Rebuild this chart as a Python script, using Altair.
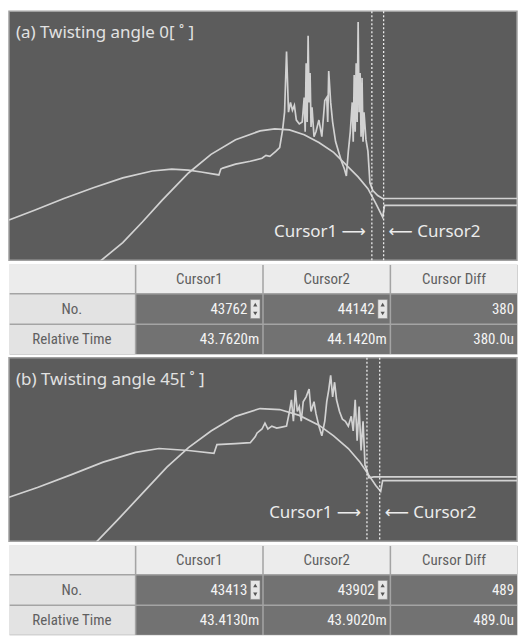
import altair as alt
import pandas as pd

# ---------------- data ----------------
A_TITLE = "(a) Twisting angle 0[ ˚ ]"
B_TITLE = "(b) Twisting angle 45[ ˚ ]"

# panel (a): smooth (bell) trace and noisy trace, sample index vs amplitude
a_bell_x = [93, 116, 136, 156, 183, 206, 231, 256, 271, 286, 301, 316, 331, 343, 356, 366, 374, 381, 383, 518]
a_bell_y = [-1, 18, 39, 61, 89, 108, 123, 132, 134, 133, 128, 120, 110, 98, 85, 73, 58, 44, 56, 56]
a_force_x = [0, 26, 56, 86, 116, 146, 166, 183, 196, 214,
             216, 218, 231, 246, 258, 262, 266, 272, 276, 279,
             281, 283, 285, 287, 289, 291, 293, 296, 299, 301,
             302, 303, 304, 305, 306, 307, 308, 309, 311, 313,
             316, 319, 322, 324, 325, 326, 328, 330, 333, 336,
             339, 342, 344, 346, 348, 350, 351, 352, 353, 354,
             355, 356, 357, 358, 359, 360, 361, 362, 364, 366,
             368, 371, 376, 381, 518]
a_force_y = [41, 51, 63, 74, 84, 91, 93, 92, 90, 87,
             93, 94, 98, 101, 104, 107, 106, 111, 115, 133,
             151, 213, 151, 161, 153, 158, 143, 139, 141, 166,
             131, 201, 141, 229, 161, 191, 136, 156, 126, 131,
             143, 126, 163, 166, 141, 193, 161, 141, 121, 111,
             101, 93, 86, 111, 131, 161, 121, 189, 131, 201,
             141, 243, 151, 191, 126, 186, 121, 151, 123, 111,
             79, 71, 66, 63, 63]
a_cursors = [370, 382]
a_no = ["43762", "44142", "380"]
a_time = ["43.7620m", "44.1420m", "380.0u"]

# panel (b)
b_bell_x = [89, 111, 136, 161, 183, 206, 231, 256, 276, 296, 316, 331, 346, 358, 366, 374, 379, 381, 518]
b_bell_y = [-1, 22, 49, 76, 96, 113, 128, 136, 135, 129, 119, 108, 95, 81, 69, 57, 51, 62, 62]
b_force_x = [0, 29, 63, 96, 129, 153, 183, 209, 212, 231,
             246, 251, 253, 258, 261, 264, 268, 273, 278, 283,
             286, 288, 290, 292, 294, 296, 298, 300, 303, 306,
             308, 311, 313, 316, 319, 322, 324, 326, 328, 330,
             332, 334, 337, 340, 343, 346, 349, 351, 353, 355,
             357, 359, 361, 363, 365, 367, 372, 518]
b_force_y = [45, 55, 68, 81, 91, 95, 93, 90, 99, 100,
             101, 107, 111, 115, 121, 115, 118, 116, 117, 118,
             133, 145, 123, 155, 133, 138, 123, 143, 148, 156,
             133, 143, 131, 118, 108, 123, 143, 155, 170, 148,
             163, 145, 133, 125, 123, 118, 128, 113, 145, 103,
             138, 93, 123, 78, 73, 65, 66, 66]
b_cursors = [365, 378]
b_no = ["43413", "43902", "489"]
b_time = ["43.4130m", "43.9020m", "489.0u"]

COL_KEYS = ["label", "Cursor1", "Cursor2", "Cursor Diff"]
HEADERS = ["", "Cursor1", "Cursor2", "Cursor Diff"]
ROW_KEYS = ["hdr", "No.", "Relative Time"]
CURSOR_NAMES = ["Cursor1", "Cursor2"]
CURSOR_LABELS = ["Cursor1 \u27f6", "\u27f5 Cursor2"]

W = 510
TEXT_FONT = "Noto Sans, DejaVu Sans, sans-serif"
NARROW = "Roboto Condensed, Liberation Sans Narrow, Roboto, sans-serif"


def plot_panel(title, bx, by, fx, fy, cursors, ymax, h):
    rows = []
    for i, (x, y) in enumerate(zip(bx, by)):
        rows.append({"series": "bell", "i": i, "x": x, "y": y})
    for i, (x, y) in enumerate(zip(fx, fy)):
        rows.append({"series": "force", "i": i, "x": x, "y": y})
    df = pd.DataFrame(rows)
    xs = alt.Scale(domain=[0, 518], nice=False, zero=False)
    ys = alt.Scale(domain=[0, ymax], nice=False, zero=False)

    lines = alt.Chart(df).mark_line(color="#d2d2d2", strokeWidth=1.7, clip=True).encode(
        x=alt.X("x:Q", scale=xs, axis=None),
        y=alt.Y("y:Q", scale=ys, axis=None),
        detail="series:N",
        order="i:Q",
    )
    cur = pd.DataFrame({"c": cursors, "name": CURSOR_NAMES, "label": CURSOR_LABELS})
    rules = alt.Chart(cur).mark_rule(color="#ececec", strokeDash=[2, 2], strokeWidth=1.3).encode(
        x=alt.X("c:Q", scale=xs, axis=None)
    )
    lab1 = alt.Chart(cur).transform_filter(alt.datum.name == "Cursor1").mark_text(
        align="right", baseline="middle", dx=-6, fontSize=17, font=TEXT_FONT, color="#ececec"
    ).encode(x=alt.X("c:Q", scale=xs, axis=None), y=alt.value(h - 28), text="label:N")
    lab2 = alt.Chart(cur).transform_filter(alt.datum.name == "Cursor2").mark_text(
        align="left", baseline="middle", dx=5, fontSize=17, font=TEXT_FONT, color="#ececec"
    ).encode(x=alt.X("c:Q", scale=xs, axis=None), y=alt.value(h - 28), text="label:N")
    ttl = alt.Chart(pd.DataFrame({"t": [title]})).mark_text(
        align="left", baseline="top", fontSize=17, font=TEXT_FONT, color="#e2e2e2"
    ).encode(x=alt.value(7), y=alt.value(14), text="t:N")

    return alt.layer(lines, rules, lab1, lab2, ttl).properties(
        width=W, height=h,
        view=alt.ViewBackground(fill="#5c5c5c", stroke="#a0a0a0", strokeWidth=1.5),
    )


def table_panel(no_vals, time_vals, h):
    cells = []
    for c, t in zip(COL_KEYS, HEADERS):
        cells.append({"row": "hdr", "col": c, "kind": "head", "text": t, "spin": False})
    for r, vals in (("No.", no_vals), ("Relative Time", time_vals)):
        cells.append({"row": r, "col": "label", "kind": "label", "text": r, "spin": False})
        for c, v in zip(COL_KEYS[1:], vals):
            cells.append({"row": r, "col": c, "kind": "dark", "text": v,
                          "spin": (r == "No." and c != "Cursor Diff")})
    df = pd.DataFrame(cells)

    xsc = alt.Scale(domain=COL_KEYS, paddingInner=0.012, paddingOuter=0)
    ysc = alt.Scale(domain=ROW_KEYS, paddingInner=0.05, paddingOuter=0)
    X = alt.X("col:N", scale=xsc, axis=None)
    Y = alt.Y("row:N", scale=ysc, axis=None)
    XR = alt.X("col:N", scale=xsc, axis=None, bandPosition=1)

    base = alt.Chart(df)
    rects = base.mark_rect().encode(
        x=X, y=Y,
        color=alt.Color("kind:N", scale=alt.Scale(domain=["head", "label", "dark"],
                                                  range=["#ececec", "#e3e3e3", "#727272"]), legend=None),
    )
    center_txt = base.transform_filter(alt.datum.kind != "dark").mark_text(
        align="center", baseline="middle", fontSize=15, font=NARROW, color="#606060"
    ).encode(x=X, y=Y, text="text:N")
    val_plain = base.transform_filter((alt.datum.kind == "dark") & (~alt.datum.spin)).mark_text(
        align="right", baseline="middle", dx=-3, fontSize=15, font=NARROW, color="#f4f4f4"
    ).encode(x=XR, y=Y, text="text:N")
    val_spin = base.transform_filter(alt.datum.spin).mark_text(
        align="right", baseline="middle", dx=-15, fontSize=15, font=NARROW, color="#f4f4f4"
    ).encode(x=XR, y=Y, text="text:N")
    spin_box = base.transform_filter(alt.datum.spin).mark_point(
        shape="M-0.5,-1L0.5,-1L0.5,1L-0.5,1Z", filled=True, fill="#e6e6e6",
        stroke="#8c8c8c", strokeWidth=0.6, size=361, opacity=1, xOffset=-7,
    ).encode(x=XR, y=Y)
    tri_up = base.transform_filter(alt.datum.spin).mark_point(
        shape="triangle-up", filled=True, color="#555555", size=18, opacity=1, xOffset=-7, yOffset=-4.5
    ).encode(x=XR, y=Y)
    tri_dn = base.transform_filter(alt.datum.spin).mark_point(
        shape="triangle-down", filled=True, color="#555555", size=18, opacity=1, xOffset=-7, yOffset=4.5
    ).encode(x=XR, y=Y)

    return alt.layer(rects, center_txt, val_plain, val_spin, spin_box, tri_up, tri_dn).properties(
        width=W, height=h,
        view=alt.ViewBackground(fill="#a4a4a4", stroke="transparent"),
    )


pa = plot_panel(A_TITLE, a_bell_x, a_bell_y, a_force_x, a_force_y, a_cursors, 254, 250)
ta = table_panel(a_no, a_time, 90)
pb = plot_panel(B_TITLE, b_bell_x, b_bell_y, b_force_x, b_force_y, b_cursors, 188, 184)
tb = table_panel(b_no, b_time, 90)

chart = alt.vconcat(pa, ta, pb, tb, spacing=1).properties(
    padding=0, background="white"
).configure_view(stroke="transparent")

chart.save("out.html", embed_options={"renderer": "svg", "actions": False})
